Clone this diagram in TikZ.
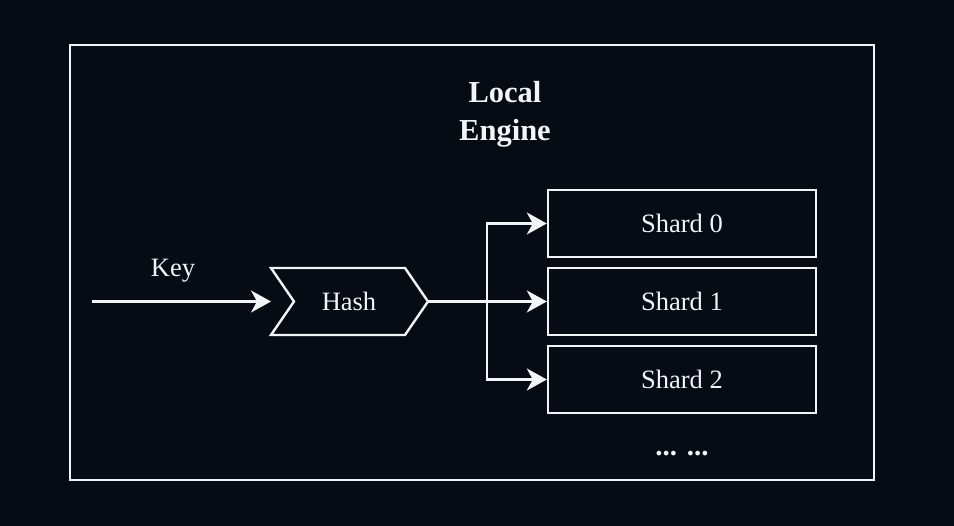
\documentclass[tikz,border=0pt]{standalone}
\usepackage{fontspec}
\setmainfont{Liberation Serif}
\usepackage{xcolor}
\usepackage{tikz}
\usetikzlibrary{arrows.meta}
\definecolor{bg}{HTML}{060B14}
\definecolor{fg}{HTML}{F2F4F6}
\tikzset{
  wire/.style={draw=fg, line width=2.4pt},
  arr/.style={wire, -{Stealth[length=20pt, width=22pt, inset=6pt]}},
  shardbox/.style={wire, minimum width=268pt, minimum height=67pt, inner sep=0pt,
    text=fg, font=\fontsize{26.5}{30}\selectfont},
  lbl/.style={text=fg, inner sep=0pt, font=\fontsize{26.5}{30}\selectfont},
  title/.style={text=fg, inner sep=0pt, align=center, font=\fontsize{30.5}{38}\selectfont\bfseries},
}
\begin{document}
\begin{tikzpicture}[x=1pt, y=-1pt]
  \fill[bg] (0,0) rectangle (954,526);
  \useasboundingbox (0,0) rectangle (954,526);
  % engine frame
  \draw[wire] (70,45) rectangle (874,480);
  \node[title] (engine) at (505,114) {Local\\Engine};
  % hash step
  \draw[wire, line join=miter] (271,268) -- (405,268) -- (428,301.5) -- (405,335) -- (271,335) -- (294,301.5) -- cycle;
  \node[lbl] (hash) at (349,301.5) {Hash};
  \coordinate (hashin) at (271,301.5);
  \coordinate (hashout) at (428,301.5);
  \coordinate (keyin) at (92,301.5);
  \node[lbl, anchor=base] (key) at (173,277) {Key};
  \draw[arr] (keyin) -- (hashin);
  % shards
  \foreach \i/\y in {0/223.5, 1/301.5, 2/379.5} {
    \node[shardbox] (shard\i) at (682,\y) {Shard \i};
  }
  \node[lbl, anchor=base, font=\fontsize{29}{30}\selectfont\bfseries] (more) at (682,456) {... ...};
  \coordinate (split) at (487,301.5);
  \draw[wire] (hashout) -- (split);
  \draw[arr] (split) -- (shard1.west);
  \draw[arr] (split) |- (shard0.west);
  \draw[arr] (split) |- (shard2.west);
\end{tikzpicture}
\end{document}
